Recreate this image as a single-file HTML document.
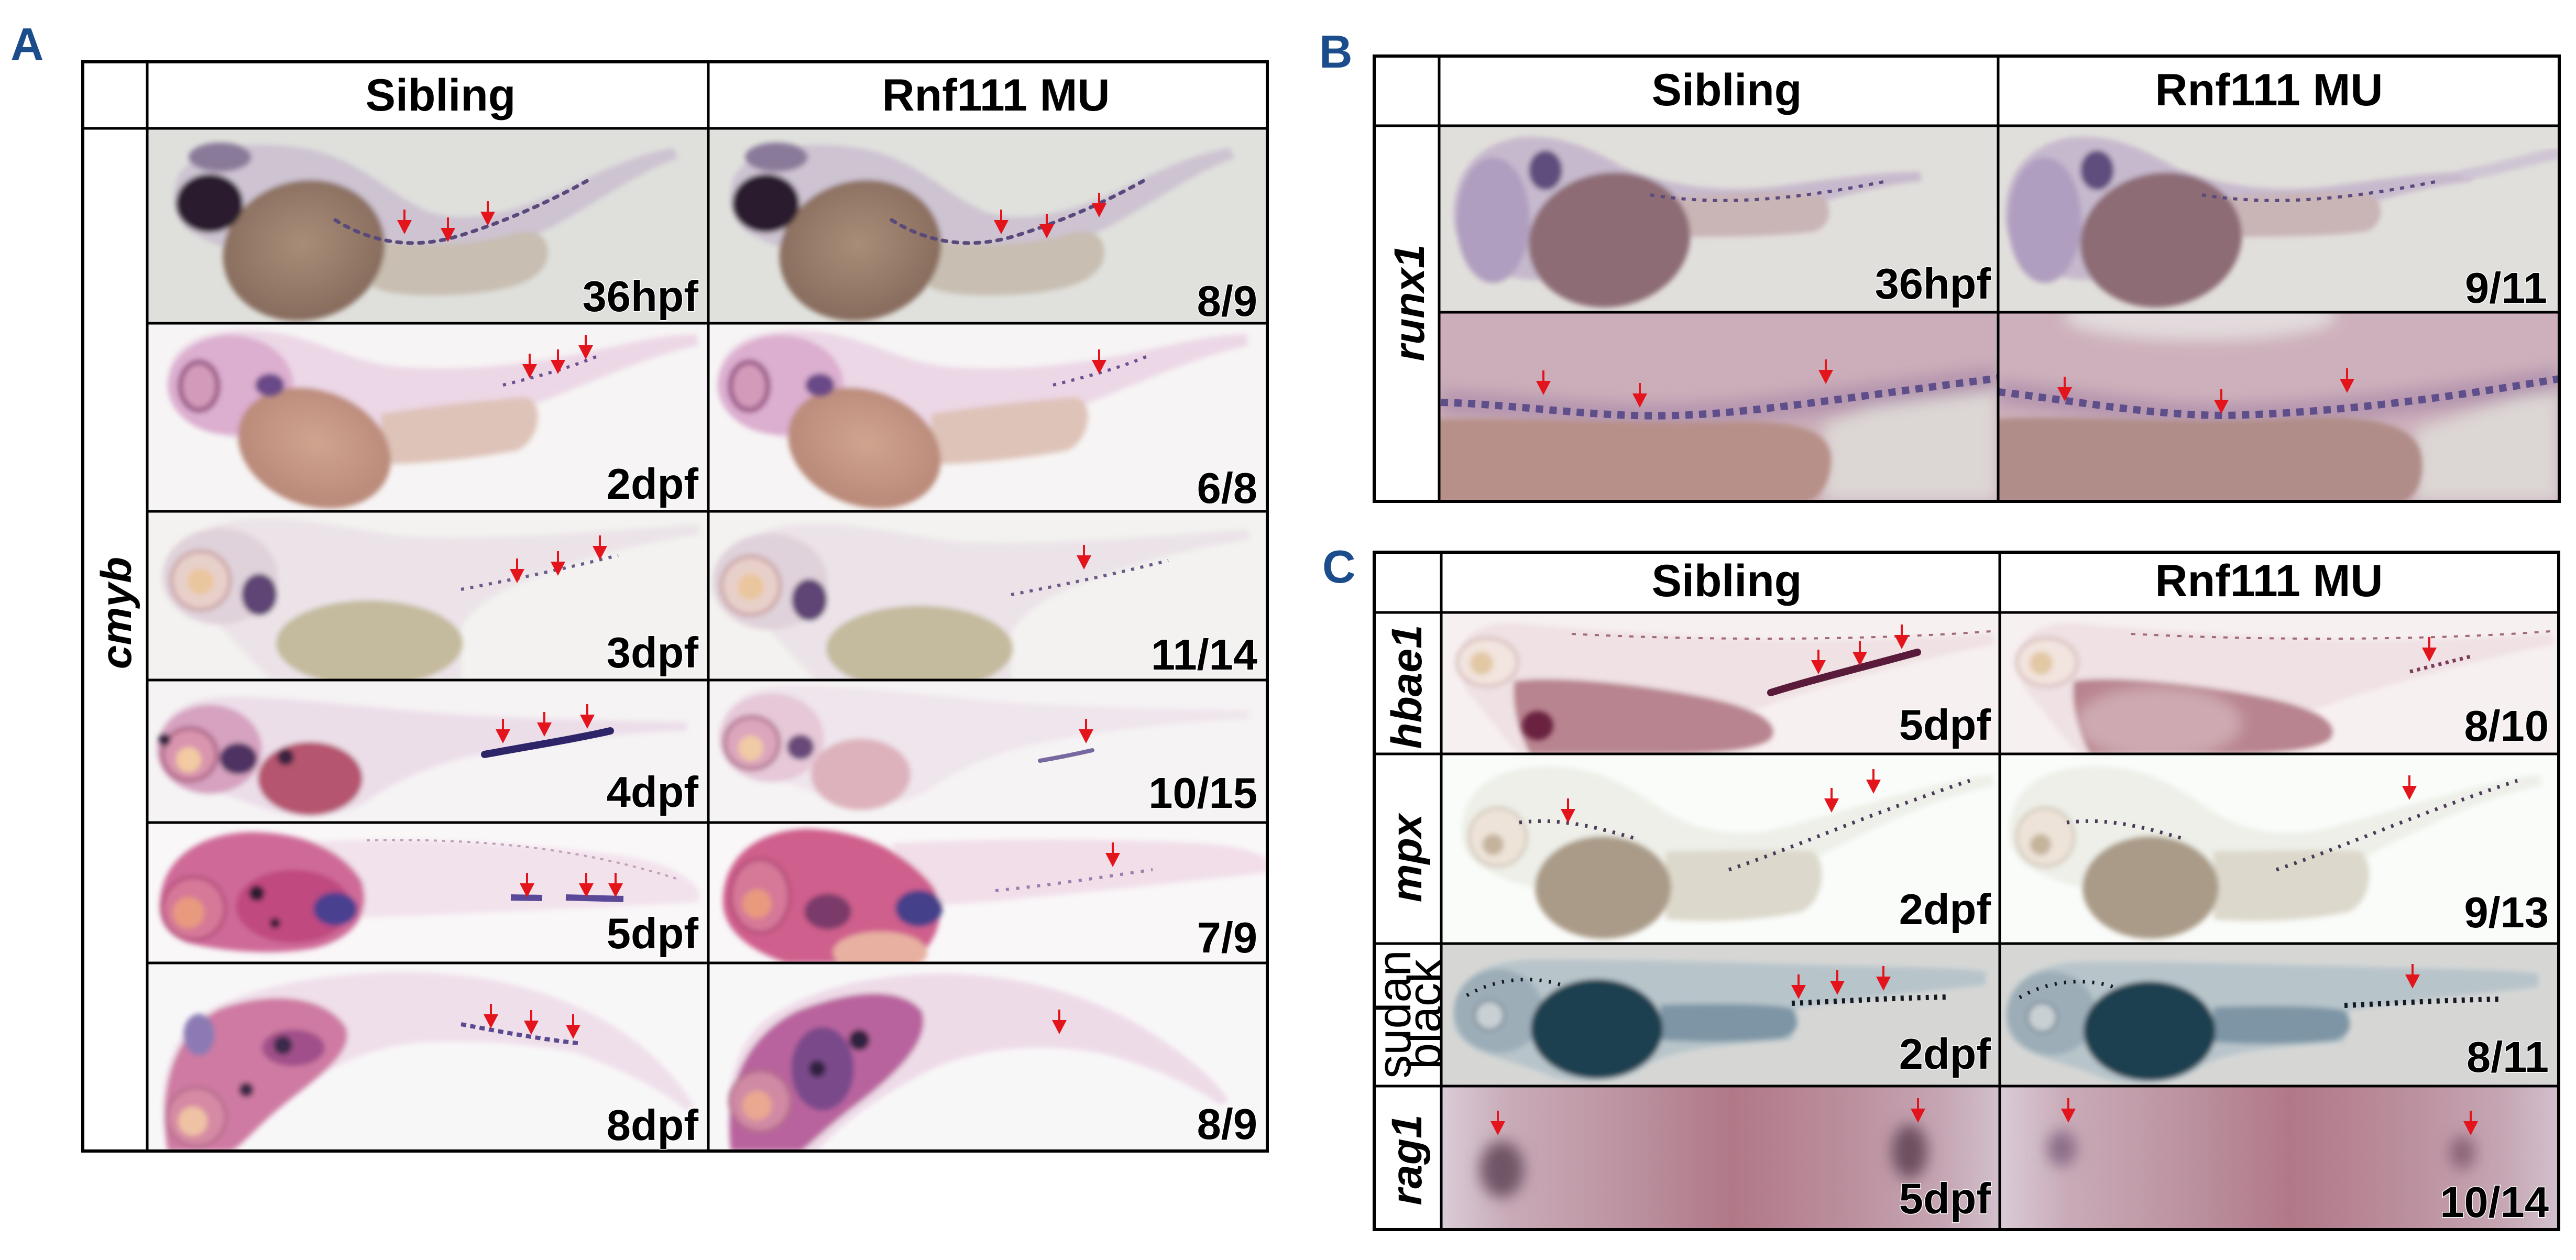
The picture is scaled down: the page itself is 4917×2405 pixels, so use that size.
<!DOCTYPE html>
<html><head><meta charset="utf-8">
<style>
html,body{margin:0;padding:0;background:#fff;}
svg{display:block;}
text{font-family:"Liberation Sans",Arial,sans-serif;}
</style></head><body>
<svg xmlns="http://www.w3.org/2000/svg" xmlns:xlink="http://www.w3.org/1999/xlink" width="4917" height="2405" viewBox="0 0 4917 2405">
<defs>
<filter id="f1" x="-20%" y="-20%" width="140%" height="140%"><feGaussianBlur stdDeviation="5"/></filter>
<filter id="f2" x="-50%" y="-50%" width="200%" height="200%"><feGaussianBlur stdDeviation="14"/></filter>
<radialGradient id="gy1" cx="50%" cy="45%" r="55%"><stop offset="0" stop-color="#a88e78"/><stop offset="1" stop-color="#876b5d"/></radialGradient>
<radialGradient id="gy2" cx="50%" cy="45%" r="55%"><stop offset="0" stop-color="#cfa48f"/><stop offset="1" stop-color="#b98878"/></radialGradient>
<linearGradient id="grag" x1="0" y1="0" x2="1" y2="0">
<stop offset="0" stop-color="#d9ccd8"/><stop offset="0.12" stop-color="#c9abb8"/><stop offset="0.35" stop-color="#bb909e"/><stop offset="0.52" stop-color="#b17888"/><stop offset="0.72" stop-color="#bb8e9c"/><stop offset="0.9" stop-color="#c6a6b4"/><stop offset="1" stop-color="#d2c0cc"/>
</linearGradient>
<clipPath id="cA11"><rect x="281" y="245" width="1071" height="372"/></clipPath>
<clipPath id="cA12"><rect x="1352" y="245" width="1067" height="372"/></clipPath>
<clipPath id="cA21"><rect x="281" y="617" width="1071" height="359"/></clipPath>
<clipPath id="cA22"><rect x="1352" y="617" width="1067" height="359"/></clipPath>
<clipPath id="cA31"><rect x="281" y="976" width="1071" height="322"/></clipPath>
<clipPath id="cA32"><rect x="1352" y="976" width="1067" height="322"/></clipPath>
<clipPath id="cA41"><rect x="281" y="1298" width="1071" height="272"/></clipPath>
<clipPath id="cA42"><rect x="1352" y="1298" width="1067" height="272"/></clipPath>
<clipPath id="cA51"><rect x="281" y="1570" width="1071" height="268"/></clipPath>
<clipPath id="cA52"><rect x="1352" y="1570" width="1067" height="268"/></clipPath>
<clipPath id="cA61"><rect x="281" y="1838" width="1071" height="359"/></clipPath>
<clipPath id="cA62"><rect x="1352" y="1838" width="1067" height="359"/></clipPath>
<clipPath id="cB11"><rect x="2747" y="240" width="1067" height="356"/></clipPath>
<clipPath id="cB12"><rect x="3814" y="240" width="1071" height="356"/></clipPath>
<clipPath id="cB21"><rect x="2747" y="596" width="1067" height="361"/></clipPath>
<clipPath id="cB22"><rect x="3814" y="596" width="1071" height="361"/></clipPath>
<clipPath id="cC11"><rect x="2751" y="1169" width="1066" height="270"/></clipPath>
<clipPath id="cC12"><rect x="3817" y="1169" width="1067" height="270"/></clipPath>
<clipPath id="cC21"><rect x="2751" y="1439" width="1066" height="362"/></clipPath>
<clipPath id="cC22"><rect x="3817" y="1439" width="1067" height="362"/></clipPath>
<clipPath id="cC31"><rect x="2751" y="1801" width="1066" height="272"/></clipPath>
<clipPath id="cC32"><rect x="3817" y="1801" width="1067" height="272"/></clipPath>
<clipPath id="cC41"><rect x="2751" y="2073" width="1066" height="274"/></clipPath>
<clipPath id="cC42"><rect x="3817" y="2073" width="1067" height="274"/></clipPath>

<path id="ar" d="M-2,-46 h4 v20 h12 l-14,27 l-14,-27 h12 z" fill="#e3141c"/>

<g id="eA1">
 <g filter="url(#f1)">
  <path d="M335,350 C350,285 470,262 590,285 C690,305 740,370 820,405 C900,430 1000,400 1100,350 C1170,315 1230,292 1285,282 L1295,302 C1230,322 1150,380 1060,430 C980,470 900,500 820,505 L700,525 C560,520 420,480 360,440 C332,412 328,380 335,350 Z" fill="#cdc3d1"/>
  <ellipse cx="420" cy="300" rx="60" ry="28" fill="#8a7a9a"/>
  <path d="M715,458 C800,472 900,470 980,446 C1035,430 1055,465 1042,502 C1022,542 962,556 882,562 C802,567 742,562 712,548 Z" fill="#c8beb1"/>
  <ellipse cx="580" cy="478" rx="156" ry="133" transform="rotate(-15 580 478)" fill="url(#gy1)"/>
  <ellipse cx="400" cy="388" rx="64" ry="56" fill="#2b1c2e"/>
 </g>
 <path d="M640,420 C720,470 800,472 870,452 C960,425 1050,385 1130,340" fill="none" stroke="#5a4a7c" stroke-width="7" stroke-dasharray="8 13" stroke-linecap="round"/>
</g>

<g id="eA2">
 <g filter="url(#f1)">
  <path d="M322,720 C325,650 400,625 500,632 C600,640 660,690 760,700 C900,712 1050,690 1200,655 C1260,642 1300,638 1330,638 L1332,660 C1250,675 1150,720 1050,760 C950,800 850,830 740,850 L560,850 C440,850 330,810 322,720 Z" fill="#ecd7e6"/>
  <ellipse cx="440" cy="735" rx="120" ry="95" fill="#dcaecf"/>
  <path d="M728,790 C820,775 920,765 1000,758 C1042,762 1032,842 986,860 C900,876 800,886 728,886 Z" fill="#dec3b8"/>
  <ellipse cx="600" cy="855" rx="150" ry="110" transform="rotate(20 600 855)" fill="url(#gy2)"/>
  <ellipse cx="380" cy="737" rx="36" ry="46" fill="#d39bb9" stroke="#985686" stroke-width="10"/>
  <ellipse cx="515" cy="735" rx="28" ry="22" fill="#6a4a88"/>
 </g>
 <path d="M960,735 C1020,720 1080,705 1140,680" fill="none" stroke="#6a5090" stroke-width="6" stroke-dasharray="6 12"/>
</g>

<g id="eA3">
 <g filter="url(#f1)">
  <path d="M330,1100 C330,1030 400,995 480,990 C600,985 700,1020 800,1025 C950,1030 1150,1015 1332,1000 L1336,1020 C1200,1040 1100,1070 1000,1110 C950,1130 900,1160 880,1200 L880,1298 L520,1298 C470,1260 420,1180 380,1170 C340,1160 330,1130 330,1100 Z" fill="#ebe3e8"/>
  <ellipse cx="420" cy="1100" rx="110" ry="92" fill="#e0d2da"/>
  <ellipse cx="705" cy="1228" rx="178" ry="82" fill="#c4ba9d"/>
  <ellipse cx="495" cy="1135" rx="34" ry="40" fill="#5e4474"/>
  <circle cx="383" cy="1108" r="56" fill="#e8d0ca" stroke="#c9a2a4" stroke-width="7"/>
  <circle cx="383" cy="1110" r="25" fill="#eac69e"/>
 </g>
 <path d="M880,1125 C960,1110 1060,1090 1180,1060" stroke="#6a5a88" stroke-width="6" stroke-dasharray="6 12" fill="none"/>
</g>

<g id="eB1">
 <g filter="url(#f1)">
  <path d="M2775,420 C2770,330 2820,275 2900,262 C2980,255 3040,285 3100,320 C3200,360 3300,370 3420,352 C3520,338 3600,328 3665,328 L3667,346 C3600,352 3520,372 3440,397 L3200,440 C3100,510 3000,545 2900,532 C2830,522 2780,482 2775,420 Z" fill="#c6b9cd"/>
  <ellipse cx="2850" cy="420" rx="70" ry="120" fill="#b09ec0"/>
  <ellipse cx="2950" cy="325" rx="32" ry="38" fill="#5e4e7e"/>
  <path d="M3200,375 C3300,370 3400,365 3470,370 C3502,386 3497,432 3462,442 C3382,452 3282,452 3200,452 Z" fill="#c9b4b6"/>
  <ellipse cx="3072" cy="458" rx="155" ry="128" transform="rotate(-10 3072 458)" fill="#8d6c74"/>
 </g>
 <path d="M3150,372 C3300,396 3450,376 3600,346" stroke="#5a4a80" stroke-width="6" stroke-dasharray="8 12" fill="none"/>
</g>

<g id="eC1">
 <g filter="url(#f1)">
  <path d="M2785,1270 C2780,1210 2830,1185 2900,1190 C3000,1200 3200,1215 3400,1222 C3550,1225 3700,1215 3803,1208 L3808,1230 C3700,1250 3550,1290 3420,1330 C3300,1370 3200,1420 3120,1439 L2900,1439 C2860,1400 2830,1350 2800,1320 C2790,1300 2785,1285 2785,1270 Z" fill="#efe1e4"/>
  <path d="M2890,1300 C2950,1290 3100,1300 3250,1330 C3350,1350 3400,1380 3380,1410 C3350,1435 3250,1439 3150,1439 L2920,1439 C2900,1400 2885,1350 2890,1300 Z" fill="#b8848f"/>
  <ellipse cx="2839" cy="1264" rx="58" ry="46" fill="#f2e4de" stroke="#d0b4b4" stroke-width="5"/>
  <circle cx="2828" cy="1266" r="22" fill="#e2c8a4"/>
 </g>
 <path d="M3000,1210 C3300,1225 3600,1220 3800,1205" stroke="#a06878" stroke-width="4" stroke-dasharray="8 14" fill="none"/>
</g>

<g id="eC2">
 <g filter="url(#f1)">
  <path d="M2790,1590 C2790,1500 2860,1465 2950,1462 C3050,1462 3110,1500 3180,1550 C3250,1590 3320,1600 3400,1580 C3550,1540 3700,1490 3803,1478 L3806,1500 C3700,1520 3600,1570 3500,1620 C3460,1640 3440,1660 3420,1680 L3200,1700 L2950,1700 C2860,1680 2790,1650 2790,1590 Z" fill="#edefe8"/>
  <path d="M3180,1625 C3280,1625 3380,1620 3460,1625 C3490,1650 3480,1720 3440,1740 C3350,1760 3250,1760 3180,1755 Z" fill="#dcd8cb"/>
  <ellipse cx="3060" cy="1694" rx="130" ry="98" fill="#aa9b88"/>
  <ellipse cx="2859" cy="1598" rx="55" ry="56" fill="#ede3d8" stroke="#cfc2b4" stroke-width="5"/>
  <circle cx="2850" cy="1612" r="20" fill="#c5b39c"/>
 </g>
 <path d="M2900,1570 C2980,1560 3050,1580 3120,1600" stroke="#4a3a58" stroke-width="7" stroke-dasharray="5 13" fill="none"/>
 <path d="M3300,1660 C3420,1620 3550,1560 3760,1490" stroke="#4a3a58" stroke-width="7" stroke-dasharray="5 13" fill="none"/>
</g>

<g id="eC3">
 <g filter="url(#f1)">
  <path d="M2775,1950 C2770,1870 2830,1835 2920,1832 C3100,1830 3400,1840 3600,1845 C3700,1847 3770,1850 3790,1855 L3790,1880 C3700,1890 3550,1905 3430,1925 L3420,1985 C3300,1995 3200,2000 3150,2030 C3100,2070 3000,2073 2950,2050 C2880,2020 2780,2010 2775,1950 Z" fill="#b7c4ca"/>
  <ellipse cx="2860" cy="1930" rx="85" ry="80" fill="#9cadb8"/>
  <path d="M3170,1918 C3280,1915 3380,1915 3420,1925 C3440,1950 3430,1975 3400,1982 C3320,1990 3240,1990 3170,1985 Z" fill="#7d95a5"/>
  <ellipse cx="3048" cy="1964" rx="126" ry="95" fill="#1f3f50"/>
  <circle cx="2843" cy="1938" r="28" fill="#c8d0d4" stroke="#7a8a96" stroke-width="5"/>
 </g>
 <path d="M3420,1915 C3500,1912 3600,1905 3720,1903" stroke="#151820" stroke-width="10" stroke-dasharray="6 10" fill="none"/>
 <path d="M2800,1900 C2850,1870 2920,1860 2980,1880" stroke="#151820" stroke-width="7" stroke-dasharray="4 14" fill="none"/>
</g>
</defs>

<rect width="4917" height="2405" fill="#fff"/>

<!-- ===== Panel A ===== -->
<g clip-path="url(#cA11)"><rect x="281" y="245" width="1071" height="372" fill="#dfe0dc"/><use href="#eA1"/></g>
<g clip-path="url(#cA12)"><rect x="1352" y="245" width="1067" height="372" fill="#e0e1dd"/><use href="#eA1" transform="translate(1062,0)"/></g>

<g clip-path="url(#cA21)"><rect x="281" y="617" width="1071" height="359" fill="#f6f4f4"/><use href="#eA2"/></g>
<g clip-path="url(#cA22)"><rect x="1352" y="617" width="1067" height="359" fill="#f6f4f4"/><use href="#eA2" transform="translate(1050,0)"/></g>

<g clip-path="url(#cA31)"><rect x="281" y="976" width="1071" height="322" fill="#f3f2f0"/><use href="#eA3"/></g>
<g clip-path="url(#cA32)"><rect x="1352" y="976" width="1067" height="322" fill="#f3f2f0"/><use href="#eA3" transform="translate(1050,10)"/></g>

<g clip-path="url(#cA41)">
<rect x="281" y="1298" width="1071" height="272" fill="#f5f3f4"/>
<g filter="url(#f1)">
<path d="M305,1420 C305,1360 360,1330 440,1330 C560,1330 700,1350 850,1362 C1000,1372 1150,1375 1310,1378 L1312,1394 C1150,1402 1000,1420 880,1448 C800,1470 740,1500 700,1530 C650,1562 560,1566 500,1542 C420,1512 330,1492 305,1420 Z" fill="#ecdee9"/>
<ellipse cx="400" cy="1430" rx="100" ry="85" fill="#d6a2bf"/>
<ellipse cx="455" cy="1448" rx="36" ry="30" fill="#4e3062"/>
<ellipse cx="592" cy="1486" rx="100" ry="70" fill="#b5546f"/>
<circle cx="545" cy="1445" r="16" fill="#3a2040"/>
<ellipse cx="362" cy="1440" rx="52" ry="50" fill="#d995ae" stroke="#ae6888" stroke-width="8"/>
<circle cx="360" cy="1450" r="24" fill="#f3caa2"/>
<circle cx="314" cy="1412" r="12" fill="#302040"/>
</g>
<path d="M925,1440 C1000,1426 1100,1410 1165,1395" stroke="#2e2468" stroke-width="14" stroke-linecap="round" fill="none"/>
</g>
<g clip-path="url(#cA42)">
<rect x="1352" y="1298" width="1067" height="272" fill="#f5f3f4"/>
<g filter="url(#f1)" transform="translate(1073,-22)">
<path d="M305,1420 C305,1360 360,1330 440,1330 C560,1330 700,1350 850,1362 C1000,1372 1150,1375 1310,1378 L1312,1394 C1150,1402 1000,1420 880,1448 C800,1470 740,1500 700,1530 C650,1562 560,1566 500,1542 C420,1512 330,1492 305,1420 Z" fill="#efe5ec"/>
<ellipse cx="400" cy="1430" rx="100" ry="85" fill="#e6c8d8"/>
<ellipse cx="455" cy="1448" rx="26" ry="24" fill="#6a4a7a"/>
<ellipse cx="570" cy="1500" rx="95" ry="68" fill="#ddb2bc"/>
<ellipse cx="362" cy="1440" rx="52" ry="50" fill="#dca6bc" stroke="#b47c96" stroke-width="8"/>
<circle cx="360" cy="1450" r="24" fill="#f1caa6"/>
</g>
<path d="M1985,1452 C2020,1446 2050,1440 2085,1432" stroke="#7868a0" stroke-width="8" stroke-linecap="round" fill="none"/>
</g>

<g clip-path="url(#cA51)">
<rect x="281" y="1570" width="1071" height="268" fill="#f9f7f8"/>
<g filter="url(#f1)">
<path d="M600,1606 C800,1598 1000,1608 1200,1635 C1270,1648 1310,1668 1335,1700 L1335,1722 C1200,1730 1000,1738 800,1748 L650,1752 Z" fill="#f2e2ec"/>
<path d="M305,1730 C305,1640 380,1590 480,1588 C580,1590 650,1620 690,1680 C710,1740 680,1790 600,1810 C520,1825 420,1815 360,1800 C320,1785 305,1760 305,1730 Z" fill="#cf6a98"/>
<ellipse cx="560" cy="1730" rx="110" ry="70" fill="#c04a80"/>
<ellipse cx="640" cy="1735" rx="42" ry="32" fill="#4a4090"/>
<circle cx="490" cy="1705" r="15" fill="#2a1a30"/>
<circle cx="525" cy="1762" r="10" fill="#2a1a30"/>
<circle cx="370" cy="1734" r="60" fill="#d67898" stroke="#b04a78" stroke-width="6"/>
<circle cx="360" cy="1742" r="30" fill="#e89a7e"/>
</g>
<path d="M975,1713 L1035,1714 M1080,1713 L1190,1716" stroke="#5a4898" stroke-width="12" fill="none"/>
<path d="M700,1604 C900,1600 1100,1615 1300,1680" stroke="#c0a0b8" stroke-width="4" stroke-dasharray="6 10" fill="none"/>
</g>
<g clip-path="url(#cA52)">
<rect x="1352" y="1570" width="1067" height="268" fill="#f9f7f8"/>
<g filter="url(#f1)">
<path d="M1700,1610 C1900,1600 2100,1600 2300,1610 C2360,1615 2400,1625 2419,1640 L2419,1665 C2300,1680 2100,1700 1900,1720 L1760,1730 Z" fill="#f1dee9"/>
<path d="M1380,1720 C1380,1640 1440,1585 1540,1582 C1640,1585 1720,1620 1780,1690 C1810,1740 1790,1800 1740,1838 L1500,1838 C1420,1810 1380,1770 1380,1720 Z" fill="#cf5e8c"/>
<ellipse cx="1680" cy="1818" rx="90" ry="40" fill="#e8b0a0"/>
<ellipse cx="1580" cy="1740" rx="45" ry="34" fill="#7a3a6a"/>
<ellipse cx="1754" cy="1734" rx="45" ry="35" fill="#45408a"/>
<ellipse cx="1451" cy="1710" rx="56" ry="70" fill="#d67898" stroke="#b04a78" stroke-width="6"/>
<circle cx="1445" cy="1725" r="28" fill="#e89a7e"/>
</g>
<path d="M1900,1700 C2000,1690 2100,1675 2200,1660" stroke="#9a80b0" stroke-width="6" stroke-dasharray="6 14" fill="none"/>
</g>

<g clip-path="url(#cA61)">
<rect x="281" y="1838" width="1071" height="359" fill="#f8f7f8"/>
<g filter="url(#f1)">
<path d="M320,2197 C300,2100 310,2000 380,1940 C450,1890 600,1858 760,1855 C900,1855 1020,1880 1120,1930 C1220,1980 1280,2040 1325,2110 L1310,2120 C1250,2070 1180,2040 1100,2010 C1000,1990 900,1985 800,1990 C700,2000 620,2040 560,2090 C500,2140 460,2190 440,2197 Z" fill="#efdfea"/>
<path d="M320,2197 C300,2080 330,1970 420,1925 C520,1890 620,1900 660,1960 C680,2010 600,2060 540,2110 C490,2150 460,2190 440,2197 Z" fill="#cf7aa2"/>
<ellipse cx="560" cy="2000" rx="60" ry="35" fill="#a0508a"/>
<ellipse cx="380" cy="1975" rx="30" ry="40" fill="#8c7ab4"/>
<circle cx="540" cy="1995" r="18" fill="#3a2a4a"/>
<circle cx="470" cy="2080" r="14" fill="#3a2a4a"/>
<circle cx="375" cy="2132" r="56" fill="#d68aa4" stroke="#b46a8a" stroke-width="6"/>
<circle cx="368" cy="2140" r="28" fill="#efc2a4"/>
</g>
<path d="M880,1955 C950,1968 1020,1982 1110,1992" stroke="#5a4a90" stroke-width="8" stroke-dasharray="10 8" fill="none"/>
</g>
<g clip-path="url(#cA62)">
<rect x="1352" y="1838" width="1067" height="359" fill="#f8f7f8"/>
<g filter="url(#f1)">
<path d="M1395,2197 C1380,2080 1400,1990 1470,1940 C1560,1880 1680,1860 1800,1858 C1950,1860 2080,1900 2180,1960 C2260,2010 2320,2060 2345,2100 L2330,2110 C2260,2060 2180,2030 2100,2010 C1980,1990 1870,2000 1780,2040 C1680,2090 1600,2150 1560,2197 Z" fill="#eedbe8"/>
<path d="M1395,2197 C1380,2080 1420,1980 1520,1930 C1620,1890 1720,1880 1760,1930 C1780,1990 1700,2060 1620,2120 C1570,2160 1540,2190 1530,2197 Z" fill="#b9649e"/>
<ellipse cx="1570" cy="2040" rx="60" ry="80" fill="#7a4a8a"/>
<circle cx="1640" cy="1985" r="20" fill="#2e2040"/>
<circle cx="1560" cy="2040" r="16" fill="#2e2040"/>
<circle cx="1451" cy="2102" r="58" fill="#d08aa4" stroke="#b06a8a" stroke-width="6"/>
<circle cx="1445" cy="2110" r="28" fill="#eaa890"/>
</g>
</g>

<!-- ===== Panel B ===== -->
<g clip-path="url(#cB11)"><rect x="2747" y="240" width="1067" height="356" fill="#e1dfdb"/><use href="#eB1"/></g>
<g clip-path="url(#cB12)"><rect x="3814" y="240" width="1071" height="356" fill="#e1dfdb"/><use href="#eB1" transform="translate(1053,0)"/>
<path d="M4700,335 C4780,320 4840,300 4885,292" stroke="#cfc4d4" stroke-width="22" fill="none" filter="url(#f1)"/></g>

<g clip-path="url(#cB21)">
<rect x="2747" y="596" width="1067" height="361" fill="#cbaeb9"/>
<g filter="url(#f2)">
<path d="M3480,957 L3480,810 C3560,780 3680,745 3814,715 L3814,957 Z" fill="#dcd6d4"/>
<path d="M2750,768 C2900,772 3050,798 3200,793 C3350,788 3500,762 3814,722" stroke="#b494ae" stroke-width="45" fill="none"/>
</g>
<g filter="url(#f1)">
<path d="M2740,800 C2900,795 3100,810 3300,805 C3420,800 3490,820 3495,870 C3498,920 3470,957 3440,960 L2740,960 Z" fill="#b79089"/>
</g>
<path d="M2750,768 C2900,772 3050,798 3200,793 C3350,788 3500,762 3814,722" stroke="#5e4e8a" stroke-width="14" stroke-dasharray="14 12" fill="none"/>
</g>
<g clip-path="url(#cB22)">
<rect x="3814" y="596" width="1071" height="361" fill="#cdb0bb"/>
<g filter="url(#f2)">
<ellipse cx="4200" cy="605" rx="260" ry="45" fill="#e2dadc"/>
<path d="M4610,957 L4610,820 C4700,790 4800,760 4885,735 L4885,957 Z" fill="#dcd6d4"/>
<path d="M3814,748 C3950,763 4100,793 4250,793 C4450,788 4650,763 4885,723" stroke="#b494ae" stroke-width="45" fill="none"/>
</g>
<g filter="url(#f1)">
<path d="M3805,800 C3950,790 4150,810 4350,800 C4500,790 4610,800 4622,870 C4630,930 4600,957 4580,960 L3805,960 Z" fill="#b08d88"/>
</g>
<path d="M3814,748 C3950,763 4100,793 4250,793 C4450,788 4650,763 4885,723" stroke="#5e4e8a" stroke-width="14" stroke-dasharray="14 12" fill="none"/>
</g>

<!-- ===== Panel C ===== -->
<g clip-path="url(#cC11)"><rect x="2751" y="1169" width="1066" height="270" fill="#f7f0f0"/><use href="#eC1"/>
<ellipse cx="2935" cy="1385" rx="30" ry="28" fill="#6a2040" filter="url(#f1)"/>
<path d="M3380,1322 C3450,1300 3550,1275 3660,1245" stroke="#5a1a3a" stroke-width="14" stroke-linecap="round" fill="none"/></g>
<g clip-path="url(#cC12)"><rect x="3817" y="1169" width="1067" height="270" fill="#f7f0f0"/><use href="#eC1" transform="translate(1068,0)"/>
<ellipse cx="4120" cy="1380" rx="160" ry="70" fill="#f7f0f0" opacity="0.35" filter="url(#f2)"/>
<path d="M4600,1282 C4640,1272 4680,1262 4720,1252" stroke="#7a3a58" stroke-width="7" stroke-dasharray="6 8" fill="none"/></g>

<g clip-path="url(#cC21)"><rect x="2751" y="1439" width="1066" height="362" fill="#fafcfa"/><use href="#eC2"/></g>
<g clip-path="url(#cC22)"><rect x="3817" y="1439" width="1067" height="362" fill="#fafcfa"/><use href="#eC2" transform="translate(1045,0)"/></g>

<g clip-path="url(#cC31)"><rect x="2751" y="1801" width="1066" height="272" fill="#d6d7d5"/><use href="#eC3"/></g>
<g clip-path="url(#cC32)"><rect x="3817" y="1801" width="1067" height="272" fill="#d6d7d5"/><use href="#eC3" transform="translate(1055,4)"/></g>

<g clip-path="url(#cC41)"><rect x="2751" y="2073" width="1066" height="274" fill="url(#grag)"/>
<g filter="url(#f2)"><ellipse cx="2867" cy="2232" rx="42" ry="54" fill="#6f5566"/><ellipse cx="3645" cy="2198" rx="34" ry="52" fill="#6c5060"/></g></g>
<g clip-path="url(#cC42)"><rect x="3817" y="2073" width="1067" height="274" fill="url(#grag)"/>
<g filter="url(#f2)"><ellipse cx="3936" cy="2192" rx="28" ry="34" fill="#8a6d88"/><ellipse cx="4700" cy="2200" rx="24" ry="32" fill="#8a6478"/></g></g>

<!-- ===== Arrows ===== -->
<use href="#ar" x="772" y="446"/><use href="#ar" x="855" y="461"/><use href="#ar" x="931" y="430"/>
<use href="#ar" x="1911" y="446"/><use href="#ar" x="1998" y="454"/><use href="#ar" x="2098" y="414"/>
<use href="#ar" x="1011" y="721"/><use href="#ar" x="1065" y="713"/><use href="#ar" x="1118" y="685"/>
<use href="#ar" x="2098" y="713"/>
<use href="#ar" x="987" y="1112"/><use href="#ar" x="1065" y="1098"/><use href="#ar" x="1145" y="1068"/>
<use href="#ar" x="2069" y="1086"/>
<use href="#ar" x="960" y="1418"/><use href="#ar" x="1039" y="1405"/><use href="#ar" x="1121" y="1390"/>
<use href="#ar" x="2073" y="1418"/>
<use href="#ar" x="1006" y="1712"/><use href="#ar" x="1119" y="1712"/><use href="#ar" x="1175" y="1712"/>
<use href="#ar" x="2124" y="1654"/>
<use href="#ar" x="937" y="1962"/><use href="#ar" x="1014" y="1974"/><use href="#ar" x="1094" y="1982"/>
<use href="#ar" x="2022" y="1973"/>
<use href="#ar" x="2946" y="753"/><use href="#ar" x="3130" y="777"/><use href="#ar" x="3485" y="732"/>
<use href="#ar" x="3941" y="765"/><use href="#ar" x="4240" y="789"/><use href="#ar" x="4480" y="749"/>
<use href="#ar" x="3471" y="1286"/><use href="#ar" x="3550" y="1270"/><use href="#ar" x="3630" y="1238"/>
<use href="#ar" x="4637" y="1262"/>
<use href="#ar" x="2993" y="1570"/><use href="#ar" x="3496" y="1550"/><use href="#ar" x="3576" y="1514"/>
<use href="#ar" x="4599" y="1526"/>
<use href="#ar" x="3433" y="1906"/><use href="#ar" x="3507" y="1898"/><use href="#ar" x="3595" y="1890"/>
<use href="#ar" x="4605" y="1886"/>
<use href="#ar" x="2859" y="2166"/><use href="#ar" x="3661" y="2142"/>
<use href="#ar" x="3948" y="2142"/><use href="#ar" x="4716" y="2166"/>

<!-- ===== Grid lines ===== -->
<g stroke="#000" fill="none">
<rect x="158" y="118" width="2261" height="2079" stroke-width="6"/>
<path d="M281,118V2197 M1352,118V2197 M158,245H2419 M281,617H2419 M281,976H2419 M281,1298H2419 M281,1570H2419 M281,1838H2419" stroke-width="5"/>
<rect x="2623" y="107" width="2262" height="850" stroke-width="6"/>
<path d="M2747,107V957 M3814,107V957 M2623,240H4885 M2747,596H4885" stroke-width="5"/>
<rect x="2623" y="1054" width="2261" height="1293" stroke-width="6"/>
<path d="M2751,1054V2347 M3817,1054V2347 M2623,1169H4884 M2623,1439H4884 M2623,1801H4884 M2623,2073H4884" stroke-width="5"/>
</g>

<!-- ===== Panel letters ===== -->
<g font-weight="bold" font-size="88" fill="#1b4d8c">
<text x="20" y="115">A</text>
<text x="2518" y="129">B</text>
<text x="2524" y="1112">C</text>
</g>

<!-- ===== Headers ===== -->
<g font-weight="bold" font-size="86" fill="#000" text-anchor="middle">
<text x="841" y="211">Sibling</text>
<text x="1901" y="211">Rnf111 MU</text>
<text x="3296" y="201">Sibling</text>
<text x="4331" y="201">Rnf111 MU</text>
<text x="3296" y="1138">Sibling</text>
<text x="4331" y="1138">Rnf111 MU</text>
</g>

<!-- ===== Cell labels ===== -->
<g font-weight="bold" font-size="83" fill="#000" text-anchor="end" stroke="#fff" stroke-width="3" paint-order="stroke">
<text x="1333" y="594">36hpf</text>
<text x="1333" y="952">2dpf</text>
<text x="1333" y="1274">3dpf</text>
<text x="1333" y="1540">4dpf</text>
<text x="1333" y="1810">5dpf</text>
<text x="1333" y="2176">8dpf</text>
<text x="2400" y="603">8/9</text>
<text x="2400" y="960">6/8</text>
<text x="2400" y="1278">11/14</text>
<text x="2400" y="1542">10/15</text>
<text x="2400" y="1818">7/9</text>
<text x="2400" y="2174">8/9</text>
<text x="3800" y="570">36hpf</text>
<text x="4862" y="578">9/11</text>
<text x="3800" y="1412">5dpf</text>
<text x="3800" y="1764">2dpf</text>
<text x="3800" y="2040">2dpf</text>
<text x="3800" y="2316">5dpf</text>
<text x="4865" y="1414">8/10</text>
<text x="4865" y="1770">9/13</text>
<text x="4865" y="2046">8/11</text>
<text x="4865" y="2323">10/14</text>
</g>

<!-- ===== Row labels ===== -->
<g font-weight="bold" font-style="italic" font-size="82" fill="#000" text-anchor="middle">
<text transform="translate(250,1170) rotate(-90)">cmyb</text>
<text transform="translate(2718,578) rotate(-90)">runx1</text>
<text transform="translate(2713,1311) rotate(-90)">hbae1</text>
<text transform="translate(2713,1638) rotate(-90)">mpx</text>
<text transform="translate(2713,2214) rotate(-90)">rag1</text>
</g>
<g font-size="90" fill="#000" text-anchor="middle">
<text transform="translate(2692,1936) rotate(-90)">sudan</text>
<text transform="translate(2750,1936) rotate(-90)">black</text>
</g>
</svg>
</body></html>
